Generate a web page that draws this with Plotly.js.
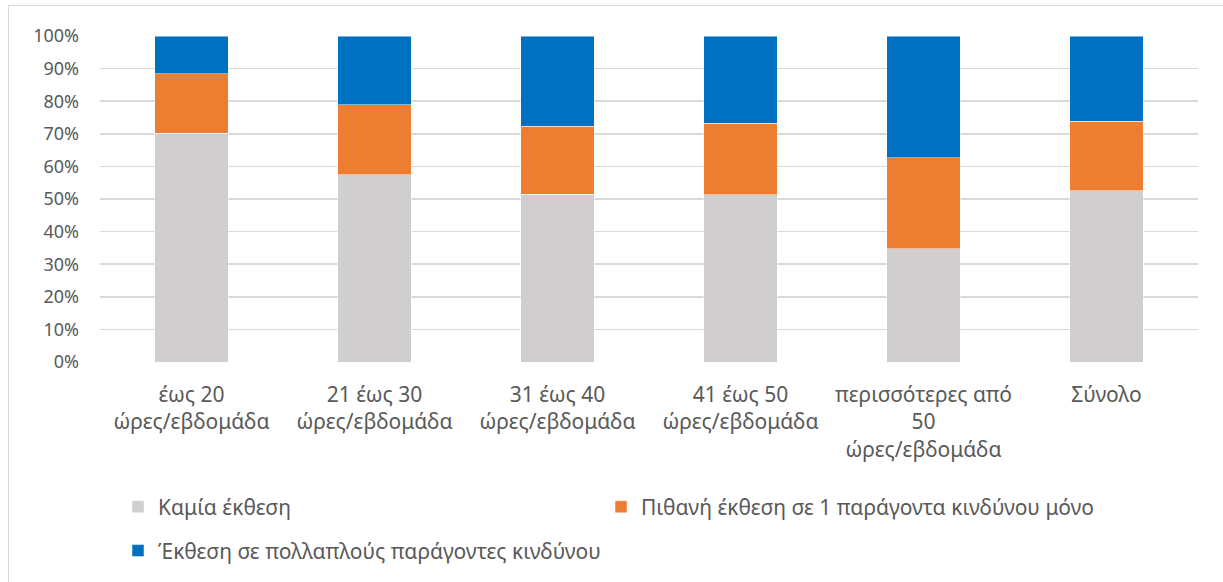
<!DOCTYPE html>
<html>
<head>
<meta charset="utf-8">
<script src="https://cdn.plot.ly/plotly-3.0.1.min.js"></script>
<style>
html, body { margin: 0; padding: 0; background: #fff; }
#wrap { position: relative; width: 1223px; height: 582px; overflow: hidden; }
#chart { position: absolute; left: 0; top: 0; width: 1223px; height: 582px; }
#frame { position: absolute; left: 8px; top: 5px; width: 1300px; height: 700px; border-left: 1.5px solid #d9d9d9; border-top: 1.5px solid #d9d9d9; pointer-events: none; }
</style>
</head>
<body>
<div id="wrap"><div id="chart"></div><div id="frame"></div></div>
<script>
var categories = [
  "έως 20<br>ώρες/εβδομάδα",
  "21 έως 30<br>ώρες/εβδομάδα",
  "31 έως 40<br>ώρες/εβδομάδα",
  "41 έως 50<br>ώρες/εβδομάδα",
  "περισσότερες από<br>50<br>ώρες/εβδομάδα",
  "Σύνολο"
];
var seriesNames = [
  "Καμία έκθεση",
  "Πιθανή έκθεση σε 1 παράγοντα κινδύνου μόνο",
  "Έκθεση σε πολλαπλούς παράγοντες κινδύνου"
];
var noExposure = [70.2, 57.5, 51.4, 51.3, 34.7, 52.6];
var singleFactor = [18.2, 21.4, 20.9, 21.9, 27.9, 21.2];
var multipleFactors = [11.6, 21.1, 27.7, 26.8, 37.4, 26.2];
var yTickValues = [0, 10, 20, 30, 40, 50, 60, 70, 80, 90, 100];
var yTickLabels = ["0%", "10%", "20%", "30%", "40%", "50%", "60%", "70%", "80%", "90%", "100%"];

var colors = ["#d0cece", "#ed7d31", "#0070c0"];
var seriesValues = [noExposure, singleFactor, multipleFactors];
var legendIds = ["legend", "legend3", "legend2"];

var traces = seriesValues.map(function (vals, i) {
  return {
    type: "bar",
    x: categories,
    y: vals,
    name: seriesNames[i],
    legend: legendIds[i],
    marker: { color: colors[i], line: { color: "rgba(255,255,255,0.6)", width: 0.8 } },
    hoverinfo: "x+y+name"
  };
});

var fam = "'Noto Sans', 'Open Sans', sans-serif";
var tickFontX = { family: fam, size: 21, color: "#595959" };
var tickFontY = { family: fam, size: 18, color: "#595959" };
var legendFont = { family: fam, size: 21, color: "#595959" };

function legendAt(x, y) {
  return {
    orientation: "h",
    x: x,
    xanchor: "left",
    y: y,
    yanchor: "top",
    traceorder: "normal",
    font: legendFont,
    itemwidth: 30
  };
}

var layout = {
  width: 1223,
  height: 582,
  barmode: "stack",
  bargap: 0.6,
  paper_bgcolor: "#ffffff",
  plot_bgcolor: "#ffffff",
  font: tickFontY,
  margin: { l: 100, r: 25, t: 36, b: 219, pad: 0 },
  showlegend: true,
  legend: legendAt(0.0164, -0.378),
  legend3: legendAt(0.4563, -0.378),
  legend2: legendAt(0.0164, -0.512),
  xaxis: {
    type: "category",
    showgrid: false,
    showline: false,
    zeroline: false,
    ticks: "",
    tickfont: tickFontX,
    ticklabelstandoff: 18
  },
  yaxis: {
    range: [0, 100],
    tickvals: yTickValues,
    ticktext: yTickLabels,
    showgrid: true,
    gridcolor: "#d9d9d9",
    gridwidth: 1.5,
    zeroline: false,
    showline: false,
    ticks: "",
    ticklabelstandoff: 20,
    tickfont: tickFontY,
    fixedrange: true
  }
};

Plotly.newPlot("chart", traces, layout, { displayModeBar: false, staticPlot: true });
</script>
</body>
</html>
